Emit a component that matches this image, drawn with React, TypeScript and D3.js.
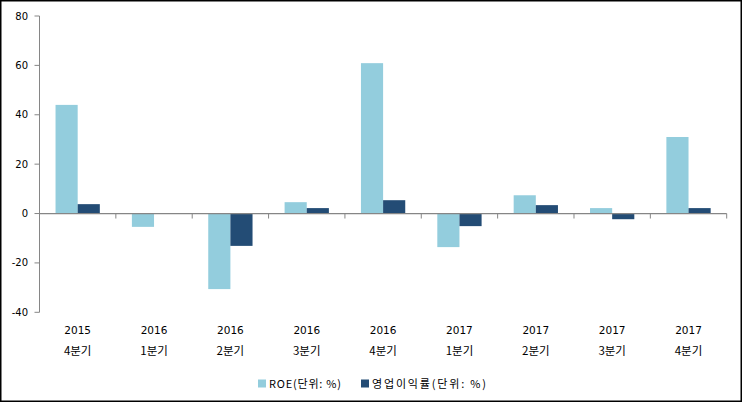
import React, { useEffect, useRef } from 'react';
import * as d3 from 'd3';

const years = ['2015', '2016', '2016', '2016', '2016', '2017', '2017', '2017', '2017'];
const quarters = ['4분기', '1분기', '2분기', '3분기', '4분기', '1분기', '2분기', '3분기', '4분기'];
const roe = [44, -5.4, -30.6, 4.6, 60.9, -13.6, 7.4, 2.2, 31];
const opMargin = [3.8, 0, -13.1, 2.2, 5.4, -5.1, 3.4, -2.3, 2.2];
const yTicks = [-40, -20, 0, 20, 40, 60, 80];
const seriesNames = ['ROE(단위: %)', '영업이익률(단위: %)'];
const colors = ['#93CDDD', '#234C75'];

const W = 743;
const H = 403;

export default function App() {
  const svgRef = useRef<SVGSVGElement>(null);

  useEffect(() => {
    document.body.style.margin = '0';
    if (!svgRef.current) return;
    const svg = d3.select(svgRef.current);
    svg.selectAll('*').remove();

    const left = 39.5;
    const right = 726.7;
    const top = 16;
    const bottom = 312.3;
    const axisColor = '#868686';
    const font = '"DejaVu Sans", sans-serif';
    const krFont = '"Noto Sans CJK KR", sans-serif';

    svg.append('rect')
      .attr('x', 0.75).attr('y', 0.75)
      .attr('width', W - 2.5).attr('height', H - 2.5)
      .attr('fill', '#fff').attr('stroke', '#000').attr('stroke-width', 1.5);

    const x = d3.scaleBand<number>()
      .domain(d3.range(years.length))
      .range([left, right]);

    const y = d3.scaleLinear().domain([-40, 80]).range([bottom, top]);

    const barW = x.bandwidth() * 0.29;
    const series = [roe, opMargin];

    series.forEach((vals, si) => {
      svg.append('g')
        .selectAll('rect')
        .data(vals)
        .enter()
        .append('rect')
        .attr('x', (_, i) => (x(i) as number) + x.bandwidth() / 2 - barW + si * barW)
        .attr('y', d => y(Math.max(0, d)))
        .attr('width', barW)
        .attr('height', d => Math.abs(y(d) - y(0)))
        .attr('fill', colors[si]);
    });

    // y axis
    svg.append('line')
      .attr('x1', left).attr('x2', left)
      .attr('y1', top).attr('y2', bottom)
      .attr('stroke', axisColor).attr('stroke-width', 1);

    const yt = svg.append('g');
    yTicks.forEach(t => {
      yt.append('line')
        .attr('x1', left - 5).attr('x2', left)
        .attr('y1', y(t)).attr('y2', y(t))
        .attr('stroke', axisColor);
      yt.append('text')
        .attr('x', 28).attr('y', y(t) + 3.5)
        .attr('text-anchor', 'end')
        .style('font-family', font).style('font-size', '10px')
        .attr('fill', '#000')
        .text(t);
    });

    // x axis at zero
    svg.append('line')
      .attr('x1', left).attr('x2', right)
      .attr('y1', y(0)).attr('y2', y(0))
      .attr('stroke', axisColor).attr('stroke-width', 1.2);

    d3.range(1, years.length + 1).forEach(i => {
      const xx = i < years.length ? (x(i) as number) : right;
      svg.append('line')
        .attr('x1', xx).attr('x2', xx)
        .attr('y1', y(0)).attr('y2', y(0) + 5)
        .attr('stroke', axisColor);
    });

    years.forEach((yr, i) => {
      const cx = (x(i) as number) + x.bandwidth() / 2;
      svg.append('text')
        .attr('x', cx).attr('y', 333.5)
        .attr('text-anchor', 'middle')
        .style('font-family', font).style('font-size', '10.5px')
        .text(yr);
      svg.append('text')
        .attr('x', cx).attr('y', 355)
        .attr('text-anchor', 'middle')
        .style('font-family', krFont).style('font-size', '11.5px')
        .text(quarters[i]);
    });

    // legend
    const legendX = [258, 361];
    const legendLen = [72, 114];
    seriesNames.forEach((name, i) => {
      svg.append('rect')
        .attr('x', legendX[i]).attr('y', 379.5)
        .attr('width', 8).attr('height', 8)
        .attr('fill', colors[i]);
      svg.append('text')
        .attr('x', legendX[i] + 11).attr('y', 387.5)
        .attr('textLength', legendLen[i])
        .attr('lengthAdjust', 'spacing')
        .style('font-family', krFont).style('font-size', '11px')
        .text(name);
    });
  }, []);

  return <svg ref={svgRef} width={W} height={H} style={{ display: 'block' }} />;
}
